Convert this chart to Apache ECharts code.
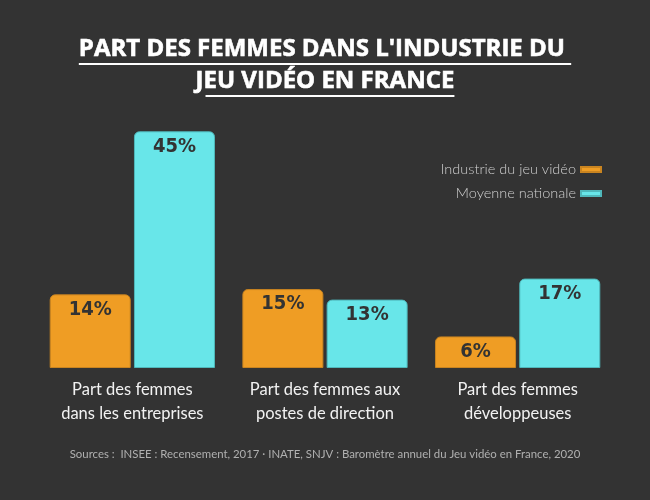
<!DOCTYPE html>
<html>
<head>
<meta charset="utf-8">
<script src="https://cdn.jsdelivr.net/npm/echarts@6/dist/echarts.min.js"></script>
<style>
  html, body { margin: 0; padding: 0; background: #333333; }
  #chart { width: 650px; height: 500px; }
</style>
</head>
<body>
<div id="chart"></div>
<script>
// catégories et valeurs (en %)
var categories = ['Part des femmes\ndans les entreprises', 'Part des femmes aux\npostes de direction', 'Part des femmes\ndéveloppeuses'];
var seriesNames = ['Industrie du jeu vidéo', 'Moyenne nationale'];
var industrie = [14, 15, 6];
var nationale = [45, 13, 17];
var titleLines = ["PART DES FEMMES DANS L'INDUSTRIE DU ", 'JEU VIDÉO EN FRANCE'];
var sourceText = 'Sources :  INSEE : Recensement, 2017 · INATE, SNJV : Baromètre annuel du Jeu vidéo en France, 2020';

var titleFont = 'bold 24px "Open Sans"';
// mesure du texte pour placer le soulignement du titre
var ctx = document.createElement('canvas').getContext('2d');
ctx.font = titleFont;

var graphics = [];
var lineY = [50, 82];
titleLines.forEach(function (t, i) {
  var w = ctx.measureText(t).width;
  graphics.push({
    type: 'text',
    left: 'center',
    top: lineY[i] - 13,
    style: { text: t, font: titleFont, fill: '#ffffff', stroke: '#ffffff', lineWidth: 0.6 }
  });
  var x0 = 325 - w / 2;
  // le J de la 2e ligne n'est pas souligné
  if (i === 1) { x0 += ctx.measureText('J').width + 2; }
  graphics.push({
    type: 'rect',
    shape: { x: x0, y: lineY[i] + 13, width: 325 + w / 2 - x0, height: 2 },
    style: { fill: '#ffffff' }
  });
});
graphics.push({
  type: 'text',
  left: 'center',
  top: 449,
  style: { text: sourceText, font: '11.4px Lato', fill: '#b0b0b0' }
});

var myChart = echarts.init(document.getElementById('chart'));

var labelStyle = {
  show: true,
  position: 'insideTop',
  distance: 5,
  formatter: '{c}%',
  fontFamily: 'DejaVu Sans Condensed',
  fontWeight: 'bold',
  fontSize: 20,
  color: '#333333'
};

var option = {
  backgroundColor: '#333333',
  animation: false,
  graphic: graphics,
  legend: {
    orient: 'vertical',
    right: 43,
    top: 157,
    align: 'right',
    icon: 'rect',
    itemWidth: 20,
    itemHeight: 5,
    itemGap: 9,
    textStyle: { color: '#cfcfcf', fontSize: 14.5, fontFamily: 'Lato', fontWeight: 300 },
    data: seriesNames
  },
  grid: { left: 36, right: 36, top: 105, bottom: 132 },
  xAxis: {
    type: 'category',
    data: categories,
    axisLine: { show: false },
    axisTick: { show: false },
    axisLabel: {
      interval: 0,
      margin: 10,
      color: '#f2f2f2',
      fontSize: 16.5,
      fontFamily: 'Lato',
      lineHeight: 24
    }
  },
  yAxis: {
    type: 'value',
    min: 0,
    max: 50,
    show: false,
    splitLine: { show: false }
  },
  series: [
    {
      name: seriesNames[0],
      type: 'bar',
      data: industrie,
      barWidth: 81,
      barGap: '4%',
      itemStyle: { color: '#EF9D24', borderColor: '#c98420', borderWidth: 1, borderRadius: [5, 5, 0, 0] },
      label: labelStyle
    },
    {
      name: seriesNames[1],
      type: 'bar',
      data: nationale,
      barWidth: 81,
      itemStyle: { color: '#68E6E9', borderColor: '#4fb8bb', borderWidth: 1, borderRadius: [5, 5, 0, 0] },
      label: labelStyle
    }
  ]
};
myChart.setOption(option);
</script>
</body>
</html>
